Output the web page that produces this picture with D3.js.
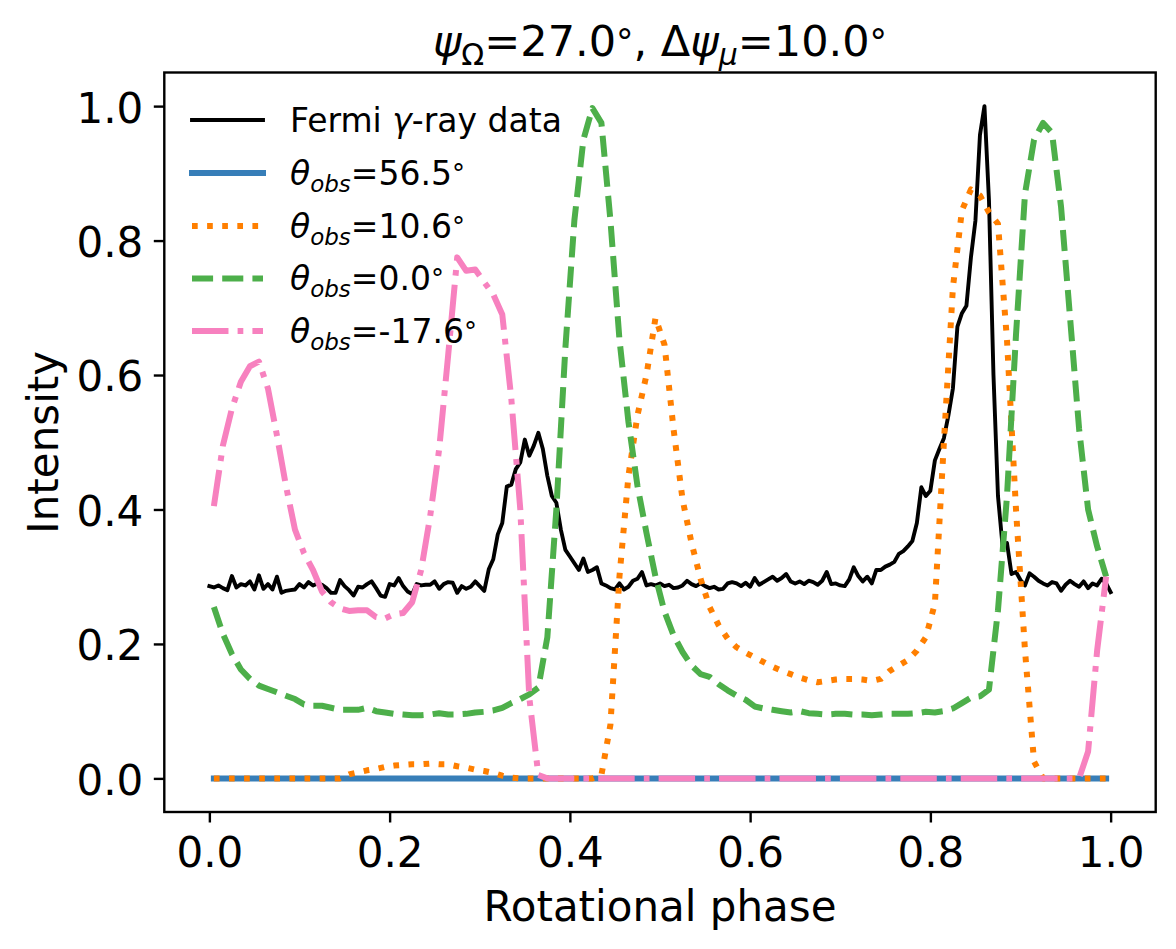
<!DOCTYPE html>
<html>
<head>
<meta charset="utf-8">
<script src="https://cdn.jsdelivr.net/npm/d3@7/dist/d3.min.js"></script>
<style>
  body { margin: 0; background: #fff; }
  text { font-family: "DejaVu Sans", sans-serif; fill: #000; }
</style>
</head>
<body>
<script>
// Fermi gamma-ray light curve, 201 samples from phase 0 to 1
var fermiData = [
  0.286, 0.284, 0.287, 0.283, 0.280, 0.301, 0.284, 0.289, 0.287, 0.293,
  0.281, 0.302, 0.282, 0.289, 0.281, 0.300, 0.276, 0.279, 0.280, 0.281,
  0.289, 0.284, 0.292, 0.287, 0.290, 0.288, 0.283, 0.276, 0.276, 0.295,
  0.286, 0.280, 0.272, 0.285, 0.284, 0.289, 0.293, 0.283, 0.272, 0.270,
  0.289, 0.287, 0.298, 0.286, 0.278, 0.274, 0.289, 0.287, 0.288, 0.288,
  0.293, 0.282, 0.289, 0.292, 0.291, 0.276, 0.286, 0.282, 0.285, 0.293,
  0.286, 0.279, 0.311, 0.326, 0.363, 0.380, 0.434, 0.437, 0.460, 0.470,
  0.504, 0.480, 0.495, 0.514, 0.490, 0.450, 0.420, 0.410, 0.370, 0.340,
  0.330, 0.320, 0.310, 0.327, 0.307, 0.310, 0.314, 0.290, 0.287, 0.283,
  0.281, 0.290, 0.281, 0.285, 0.294, 0.297, 0.307, 0.287, 0.289, 0.287,
  0.290, 0.286, 0.288, 0.283, 0.284, 0.287, 0.294, 0.289, 0.286, 0.290,
  0.286, 0.283, 0.285, 0.281, 0.282, 0.290, 0.292, 0.290, 0.286, 0.291,
  0.285, 0.298, 0.288, 0.292, 0.296, 0.300, 0.294, 0.298, 0.304, 0.293,
  0.290, 0.293, 0.289, 0.294, 0.292, 0.288, 0.294, 0.307, 0.289, 0.290,
  0.287, 0.286, 0.296, 0.314, 0.301, 0.293, 0.300, 0.290, 0.310, 0.310,
  0.315, 0.318, 0.322, 0.334, 0.338, 0.345, 0.353, 0.380, 0.433, 0.420,
  0.428, 0.473, 0.490, 0.506, 0.540, 0.580, 0.672, 0.692, 0.703, 0.775,
  0.830, 0.957, 1.000, 0.860, 0.600, 0.420, 0.347, 0.350, 0.304, 0.307,
  0.295, 0.287, 0.305, 0.300, 0.294, 0.290, 0.287, 0.292, 0.290, 0.279,
  0.288, 0.294, 0.289, 0.285, 0.293, 0.283, 0.290, 0.287, 0.297, 0.290,
  0.277
];

// model light curves, 100 phase bins
var theta565 = [
  0, 0, 0, 0, 0, 0, 0, 0, 0, 0,
  0, 0, 0, 0, 0, 0, 0, 0, 0, 0,
  0, 0, 0, 0, 0, 0, 0, 0, 0, 0,
  0, 0, 0, 0, 0, 0, 0, 0, 0, 0,
  0, 0, 0, 0, 0, 0, 0, 0, 0, 0,
  0, 0, 0, 0, 0, 0, 0, 0, 0, 0,
  0, 0, 0, 0, 0, 0, 0, 0, 0, 0,
  0, 0, 0, 0, 0, 0, 0, 0, 0, 0,
  0, 0, 0, 0, 0, 0, 0, 0, 0, 0,
  0, 0, 0, 0, 0, 0, 0, 0, 0, 0
];

var theta106 = [
  0, 0, 0, 0, 0, 0, 0, 0, 0, 0,
  0, 0, 0, 0, 0, 0.006, 0.009, 0.012, 0.014, 0.017,
  0.019, 0.020, 0.021, 0.021, 0.022, 0.021, 0.021, 0.018, 0.016, 0.013,
  0.011, 0.008, 0.004, 0.001, 0, 0, 0, 0, 0, 0,
  0, 0, 0, 0.005, 0.080, 0.300, 0.450, 0.540, 0.600, 0.685,
  0.645, 0.520, 0.415, 0.350, 0.297, 0.255, 0.228, 0.208, 0.195, 0.187,
  0.180, 0.173, 0.166, 0.160, 0.155, 0.150, 0.146, 0.143, 0.145, 0.147,
  0.148, 0.148, 0.147, 0.145, 0.148, 0.160, 0.168, 0.176, 0.190, 0.210,
  0.260, 0.500, 0.730, 0.845, 0.876, 0.867, 0.842, 0.825, 0.652, 0.400,
  0.190, 0.025, 0, 0, 0, 0, 0, 0, 0, 0
];

var theta00 = [
  0.255, 0.215, 0.185, 0.162, 0.148, 0.138, 0.133, 0.128, 0.123, 0.118,
  0.110, 0.108, 0.108, 0.105, 0.102, 0.102, 0.102, 0.105, 0.100, 0.098,
  0.096, 0.095, 0.094, 0.094, 0.095, 0.097, 0.095, 0.095, 0.096, 0.098,
  0.099, 0.101, 0.105, 0.112, 0.118, 0.125, 0.135, 0.210, 0.400, 0.640,
  0.830, 0.950, 0.997, 0.975, 0.830, 0.653, 0.530, 0.435, 0.365, 0.300,
  0.248, 0.213, 0.188, 0.168, 0.155, 0.151, 0.140, 0.131, 0.123, 0.117,
  0.107, 0.104, 0.102, 0.100, 0.098, 0.100, 0.097, 0.096, 0.095, 0.096,
  0.096, 0.095, 0.095, 0.094, 0.095, 0.096, 0.096, 0.096, 0.097, 0.099,
  0.098, 0.100, 0.104, 0.112, 0.120, 0.122, 0.132, 0.250, 0.420, 0.660,
  0.870, 0.950, 0.975, 0.960, 0.850, 0.685, 0.520, 0.400, 0.345, 0.300
];

var thetaM176 = [
  0.405, 0.495, 0.550, 0.590, 0.613, 0.620, 0.580, 0.510, 0.435, 0.370,
  0.335, 0.310, 0.278, 0.262, 0.253, 0.249, 0.250, 0.250, 0.240, 0.238,
  0.244, 0.246, 0.262, 0.310, 0.390, 0.490, 0.630, 0.775, 0.755, 0.757,
  0.738, 0.720, 0.690, 0.565, 0.400, 0.120, 0.005, 0, 0, 0,
  0, 0, 0, 0, 0, 0, 0, 0, 0, 0,
  0, 0, 0, 0, 0, 0, 0, 0, 0, 0,
  0, 0, 0, 0, 0, 0, 0, 0, 0, 0,
  0, 0, 0, 0, 0, 0, 0, 0, 0, 0,
  0, 0, 0, 0, 0, 0, 0, 0, 0, 0,
  0, 0, 0, 0, 0, 0, 0, 0.040, 0.190, 0.300
];

// phase grids (regular bins)
var fermiPhase = d3.range(fermiData.length).map(function(i) { return i / (fermiData.length - 1); });
var modelPhase = d3.range(theta00.length).map(function(i) { return (i + 0.5) / theta00.length; });

var tickValues = [0.0, 0.2, 0.4, 0.6, 0.8, 1.0];
var labels = ["Fermi", "56.5", "10.6", "0.0", "-17.6"];
var colors = ["#000000", "#377eb8", "#ff7f00", "#4daf4a", "#f781bf"];

// Set the size of the figure and the plot area
var width = 1176;
var height = 949;
var plotLeft = 164.3, plotRight = 1155.7, plotTop = 72.5, plotBottom = 812;
var lw = 6;      // model line width
var ds = 5.7;    // dash unit

var svg = d3.select("body")
            .append("svg")
            .attr("width", width)
            .attr("height", height);

var x = d3.scaleLinear().domain([-0.05, 1.05]).range([plotLeft, plotRight]);
var y = d3.scaleLinear().domain([-0.05, 1.05]).range([plotBottom, plotTop]);

var series = [
  { phase: fermiPhase, values: fermiData, width: 3.9, dash: null },
  { phase: modelPhase, values: theta565, width: lw, dash: null },
  { phase: modelPhase, values: theta106, width: lw, dash: [1 * ds, 1.65 * ds] },
  { phase: modelPhase, values: theta00, width: lw, dash: [3.7 * ds, 1.6 * ds] },
  { phase: modelPhase, values: thetaM176, width: lw, dash: [6.4 * ds, 1.6 * ds, 1 * ds, 1.6 * ds] }
];

var line = d3.line()
             .x(function(d) { return x(d[0]); })
             .y(function(d) { return y(d[1]); });

// Draw the curves
series.forEach(function(s, i) {
  svg.append("path")
     .datum(d3.zip(s.phase, s.values))
     .attr("d", line)
     .attr("fill", "none")
     .attr("stroke", colors[i])
     .attr("stroke-width", s.width)
     .attr("stroke-linejoin", "round")
     .attr("stroke-linecap", s.dash ? "butt" : "square")
     .attr("stroke-dasharray", s.dash ? s.dash.join(",") : null);
});

// Axes frame
svg.append("rect")
   .attr("x", plotLeft).attr("y", plotTop)
   .attr("width", plotRight - plotLeft).attr("height", plotBottom - plotTop)
   .attr("fill", "none")
   .attr("stroke", "#000")
   .attr("stroke-width", 2.4);

var xAxis = svg.append("g")
   .attr("transform", "translate(0," + plotBottom + ")")
   .call(d3.axisBottom(x).tickValues(tickValues).tickFormat(d3.format(".1f"))
           .tickSize(10.5).tickPadding(10.5));

var yAxis = svg.append("g")
   .attr("transform", "translate(" + plotLeft + ",0)")
   .call(d3.axisLeft(y).tickValues(tickValues).tickFormat(d3.format(".1f"))
           .tickSize(10.5).tickPadding(10.5));

[xAxis, yAxis].forEach(function(g) {
  g.select(".domain").remove();
  g.selectAll(".tick line").attr("stroke", "#000").attr("stroke-width", 2.4);
  g.selectAll(".tick text")
   .attr("font-family", "DejaVu Sans")
   .attr("font-size", 42)
   .attr("fill", "#000");
});
xAxis.selectAll(".tick text").attr("dy", "0.8em");
yAxis.selectAll(".tick text").attr("dy", "0.38em");

// Axis labels
svg.append("text")
   .attr("x", (plotLeft + plotRight) / 2)
   .attr("y", 921)
   .attr("text-anchor", "middle")
   .attr("font-size", 42)
   .text("Rotational phase");

svg.append("text")
   .attr("transform", "translate(58," + ((plotTop + plotBottom) / 2) + ") rotate(-90)")
   .attr("text-anchor", "middle")
   .attr("font-size", 42)
   .text("Intensity");

// Title with math-style pieces
var title = svg.append("text")
   .attr("x", (plotLeft + plotRight) / 2)
   .attr("y", 56)
   .attr("text-anchor", "middle")
   .attr("font-size", 43);
title.append("tspan").attr("font-style", "italic").text("ψ");
title.append("tspan").attr("font-size", 30).attr("dy", 9).text("Ω");
title.append("tspan").attr("dy", -9).text("=27.0");
title.append("tspan").attr("font-size", 35).attr("dy", -2).text("°");
title.append("tspan").attr("dy", 2).text(", Δ");
title.append("tspan").attr("font-style", "italic").text("ψ");
title.append("tspan").attr("font-size", 30).attr("font-style", "italic").attr("dy", 9).text("μ");
title.append("tspan").attr("dy", -9).text("=10.0");
title.append("tspan").attr("font-size", 35).attr("dy", -2).text("°");

// Legend (no frame)
var legend = svg.append("g");
var rowY = [120, 173, 226, 278.5, 331];
series.forEach(function(s, i) {
  legend.append("line")
        .attr("x1", 192).attr("x2", 263)
        .attr("y1", rowY[i]).attr("y2", rowY[i])
        .attr("stroke", colors[i])
        .attr("stroke-width", s.width)
        .attr("stroke-linecap", s.dash ? "butt" : "square")
        .attr("stroke-dasharray", s.dash ? s.dash.join(",") : null);

  var t = legend.append("text")
                .attr("x", 290)
                .attr("y", rowY[i] + 11.5)
                .attr("font-size", 33);
  if (i === 0) {
    t.append("tspan").text("Fermi ");
    t.append("tspan").attr("font-style", "italic").text("γ");
    t.append("tspan").text("-ray data");
  } else {
    t.append("tspan").attr("font-style", "italic").text("θ");
    t.append("tspan").attr("font-style", "italic").attr("font-size", 23).attr("dy", 7).text("obs");
    t.append("tspan").attr("dy", -7).text("=" + labels[i]);
    t.append("tspan").attr("font-size", 26).attr("dy", -2).text("°");
  }
});
</script>
</body>
</html>
